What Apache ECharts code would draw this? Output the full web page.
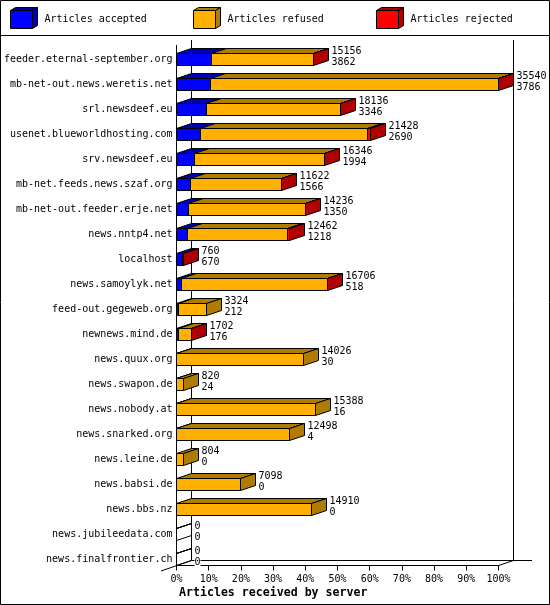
<!DOCTYPE html>
<html>
<head>
<meta charset="utf-8">
<style>html,body{margin:0;padding:0;background:#fff}#c{width:550px;height:605px}</style>
<script src="https://cdn.jsdelivr.net/npm/echarts@6/dist/echarts.min.js"></script>
</head>
<body>
<div id="c"></div>
<script>
const categories = ["feeder.eternal-september.org","mb-net-out.news.weretis.net","srl.newsdeef.eu","usenet.blueworldhosting.com","srv.newsdeef.eu","mb-net.feeds.news.szaf.org","mb-net-out.feeder.erje.net","news.nntp4.net","localhost","news.samoylyk.net","feed-out.gegeweb.org","newnews.mind.de","news.quux.org","news.swapon.de","news.nobody.at","news.snarked.org","news.leine.de","news.babsi.de","news.bbs.nz","news.jubileedata.com","news.finalfrontier.ch"];
const totalLabels = [15156,35540,18136,21428,16346,11622,14236,12462,760,16706,3324,1702,14026,820,15388,12498,804,7098,14910,0,0];
const accepted = [3862,3786,3346,2690,1994,1566,1350,1218,670,518,212,176,30,24,16,4,0,0,0,0,0];
const refused = [11254,31724,14730,18418,14292,10026,12846,11024,0,16158,3112,1496,13996,796,15372,12494,804,7098,14910,0,0];
const rejected = [40,30,60,320,60,30,40,220,90,30,0,30,0,0,0,0,0,0,0,0,0];
const xTicks = {min:0,max:100,interval:10};

const FONT = '"DejaVu Sans Mono","Liberation Mono",monospace';
const BLUE=['#0000ff','#0000b0'], ORANGE=['#ffb000','#b07c00'], RED=['#ff0000','#b00000'];
const DX=15, DY=-5, HALF=6;
const maxTotal = Math.max(...totalLabels);
const pct = v => v/maxTotal*100;
const snap = v => Math.floor(v)+0.5;

function rows(own, before, after){
  return own.map((v,i)=>{
    const s = before.reduce((a,arr)=>a+arr[i],0);
    const later = after.reduce((a,arr)=>a+arr[i],0);
    return [pct(s),pct(s+v),i,v,later];
  });
}
function bar(colors, isFirst){
  return function(params,api){
    const v=api.value(3), later=api.value(4), i=api.value(2);
    const total=totalLabels[i];
    if(v===0 && !(total===0 && isFirst)) return {type:'group',children:[]};
    const a=api.coord([api.value(0),i]), b=api.coord([api.value(1),i]);
    const x0=snap(a[0]), x1=snap(b[0]), yc=Math.floor(a[1]), t=yc-HALF+0.5, h=2*HALF;
    const line={stroke:'#000',lineWidth:1};
    const children=[
      {type:'polygon',shape:{points:[[x0,t],[x0+DX,t+DY],[x1+DX,t+DY],[x1,t]]},style:Object.assign({fill:total?colors[1]:'none'},line)}
    ];
    if(later===0){
      children.push({type:'polygon',shape:{points:[[x1,t],[x1+DX,t+DY],[x1+DX,t+DY+h],[x1,t+h]]},style:Object.assign({fill:total?colors[1]:'none'},line)});
    }
    children.push({type:'rect',shape:{x:x0,y:t,width:x1-x0,height:h},style:Object.assign({fill:total?colors[0]:'none'},line)});
    return {type:'group',children};
  };
}
function labelItem(params,api){
  const i=api.value(1);
  const p=api.coord([api.value(0),i]);
  const x=snap(p[0])+DX+3, y=Math.floor(p[1]);
  const mk=(t,yy)=>({type:'text',style:{text:String(t),x:x,y:yy,font:'10px '+FONT,fill:'#000',align:'left',verticalAlign:'middle',backgroundColor:'#fff'}});
  return {type:'group',children:[mk(totalLabels[i],y-8),mk(accepted[i],y+3)]};
}
const mkSeries=(name,colors,data,first)=>({
  name,type:'custom',coordinateSystem:'cartesian2d',z:2,silent:true,animation:false,clip:false,
  itemStyle:{color:colors[0]},
  encode:{x:[0,1],y:2},data,renderItem:bar(colors,first)
});
function legendCube(x,c){
  const y=10.5,w=22,h=18;
  return [
    {type:'polygon',shape:{points:[[x,y],[x+5,y-3],[x+w+5,y-3],[x+w,y]]},style:{fill:c,stroke:'#000',lineWidth:1}},
    {type:'polygon',shape:{points:[[x+w,y],[x+w+5,y-3],[x+w+5,y+h-3],[x+w,y+h]]},style:{fill:c,stroke:'#000',lineWidth:1}}
  ];
}
const L=(x1,y1,x2,y2)=>({type:'line',z:0,silent:true,shape:{x1,y1,x2,y2},style:{stroke:'#000',lineWidth:1}});
const legendAt=(name,left)=>({
  data:[name],left,top:10,padding:0,itemWidth:22,itemHeight:18,icon:'rect',selectedMode:false,
  itemStyle:{borderColor:'#000',borderWidth:1},
  textStyle:{fontFamily:FONT,fontSize:10,color:'#000',padding:[4,0,0,7]}
});

const chart=echarts.init(document.getElementById('c'),null,{renderer:'canvas',width:550,height:605});
chart.setOption({
  animation:false,
  backgroundColor:'#fff',
  title:{text:'Articles received by server',left:179,top:587,padding:0,textStyle:{fontFamily:FONT,fontSize:11.6,fontWeight:'bold',color:'#000'}},
  legend:[legendAt('Articles accepted',10),legendAt('Articles refused',193),legendAt('Articles rejected',376)],
  grid:{left:176.5,top:47,width:322,height:525,containLabel:false},
  xAxis:{type:'value',min:xTicks.min,max:xTicks.max,interval:xTicks.interval,offset:-6.5,
    axisLine:{show:true,lineStyle:{color:'#000',width:1}},
    axisTick:{show:true,length:5,lineStyle:{color:'#000',width:1}},
    splitLine:{show:false},
    axisLabel:{formatter:'{value}%',fontFamily:FONT,fontSize:10,color:'#000',margin:9,hideOverlap:false}},
  yAxis:{type:'category',inverse:true,data:categories,
    axisLine:{show:false},axisTick:{show:false},
    axisLabel:{fontFamily:FONT,fontSize:10,color:'#000',margin:4,interval:0,padding:[4,0,0,0]}},
  graphic:{elements:[
    {type:'rect',z:0,silent:true,shape:{x:0.5,y:0.5,width:549,height:604},style:{fill:'none',stroke:'#000',lineWidth:1}},
    L(0,35.5,550,35.5),
    L(176.5,45,176.5,566),
    L(191.5,40,191.5,560.5),
    L(513.5,40,513.5,560.5),
    L(191.5,560.5,532,560.5),
    L(161,571,191.5,560.5),
    L(498.5,565.5,513.5,560.5),
    ...legendCube(10.5,BLUE[1]),
    ...legendCube(193.5,ORANGE[1]),
    ...legendCube(376.5,RED[1])
  ]},
  series:[
    mkSeries('Articles accepted',BLUE,rows(accepted,[],[refused,rejected]),true),
    mkSeries('Articles refused',ORANGE,rows(refused,[accepted],[rejected]),false),
    mkSeries('Articles rejected',RED,rows(rejected,[accepted,refused],[]),false),
    {name:'labels',type:'custom',coordinateSystem:'cartesian2d',z:3,silent:true,clip:false,
     encode:{x:0,y:1},data:totalLabels.map((v,i)=>[pct(v),i]),renderItem:labelItem}
  ]
});
</script>
</body>
</html>
